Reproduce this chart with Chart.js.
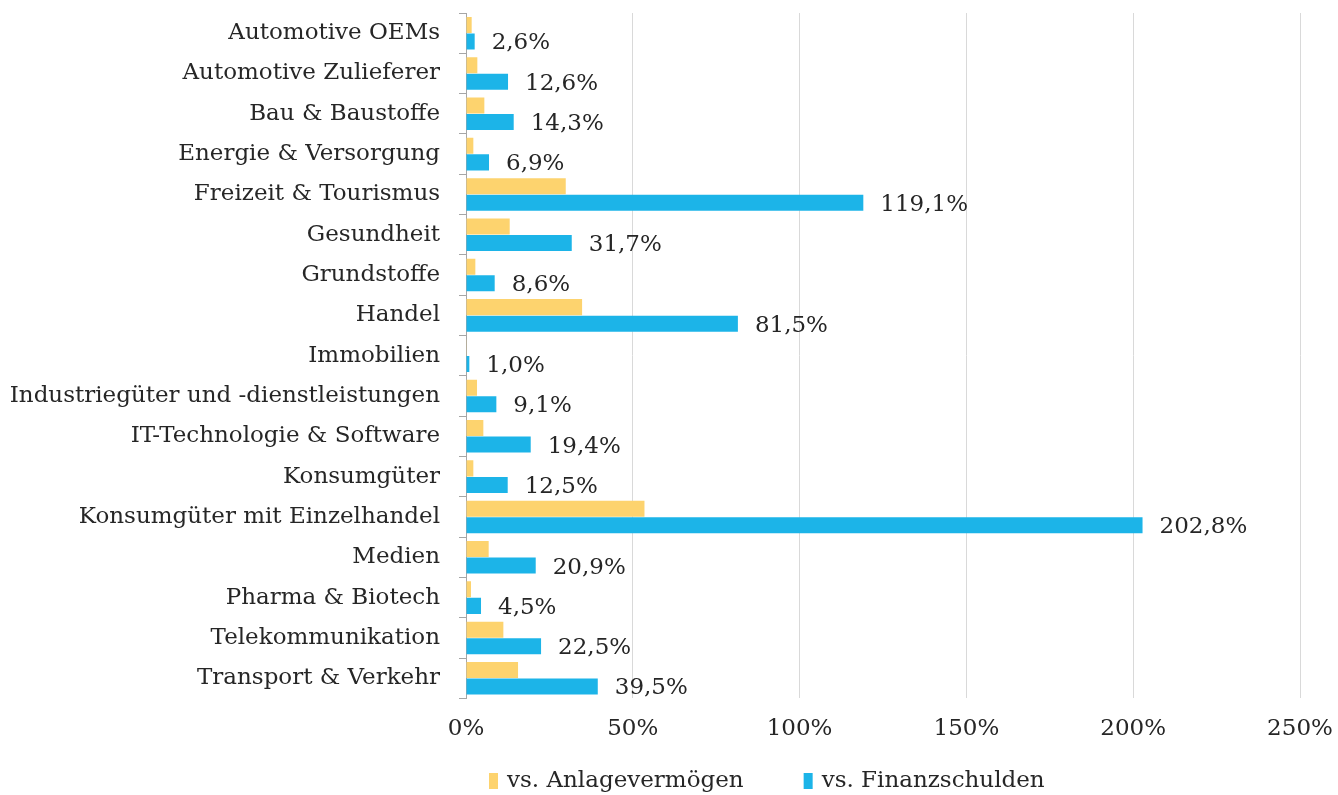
<!DOCTYPE html>
<html>
<head>
<meta charset="utf-8">
<script src="https://cdn.jsdelivr.net/npm/chart.js@4"></script>
<style>
  html, body { margin: 0; padding: 0; background: #fff; }
  #wrap { width: 1338px; height: 795px; }
</style>
</head>
<body>
<div id="wrap"><canvas id="chart" width="1338" height="795"></canvas></div>
<script>
const categories = [
    'Automotive OEMs', 'Automotive Zulieferer', 'Bau & Baustoffe', 'Energie & Versorgung',
    'Freizeit & Tourismus', 'Gesundheit', 'Grundstoffe', 'Handel', 'Immobilien',
    'Industriegüter und -dienstleistungen', 'IT-Technologie & Software', 'Konsumgüter',
    'Konsumgüter mit Einzelhandel', 'Medien', 'Pharma & Biotech', 'Telekommunikation',
    'Transport & Verkehr',
];
// (no labels on the yellow series)
const anlagevermoegen = [1.7, 3.4, 5.5, 2.2, 29.9, 13.1, 2.8, 34.8, 0.2, 3.3, 5.2, 2.2, 53.5, 6.8, 1.5, 11.2, 15.6];
const finanzschulden = [2.6, 12.6, 14.3, 6.9, 119.1, 31.7, 8.6, 81.5, 1.0, 9.1, 19.4, 12.5, 202.8, 20.9, 4.5, 22.5, 39.5];
const xTicks = [0, 50, 100, 150, 200, 250];
const seriesNames = ['vs. Anlagevermögen', 'vs. Finanzschulden'];
const seriesColors = ['#fdd36e', '#1cb4e8'];

const FONT = '"DejaVu Serif", Georgia, serif';
const TXT = '#262626';

const fmt = (v) => v.toFixed(1).replace('.', ',') + '%';

const valueLabels = {
    id: 'valueLabels',
    afterDatasetsDraw(chart) {
        const ctx = chart.ctx;
        const meta = chart.getDatasetMeta(1);
        ctx.save();
        ctx.font = '23px ' + FONT;
        ctx.fillStyle = TXT;
        ctx.textAlign = 'left';
        ctx.textBaseline = 'middle';
        meta.data.forEach((bar, i) => {
            ctx.fillText(fmt(finanzschulden[i]), bar.x + 17, bar.y + 2);
        });
        ctx.restore();
    },
};

// Excel-style legend: narrow boxes, placed under the chart
const bottomLegend = {
    id: 'bottomLegend',
    afterDraw(chart) {
        const ctx = chart.ctx;
        const y = 781;
        let x = 489;
        ctx.save();
        ctx.font = '23px ' + FONT;
        ctx.textBaseline = 'middle';
        ctx.textAlign = 'left';
        seriesNames.forEach((name, i) => {
            ctx.fillStyle = seriesColors[i];
            ctx.fillRect(x, y - 8, 9, 16);
            ctx.fillStyle = TXT;
            ctx.fillText(name, x + 18, y);
            x += 18 + ctx.measureText(name).width + 60;
        });
        ctx.restore();
    },
};

new Chart(document.getElementById('chart').getContext('2d'), {
    type: 'bar',
    data: {
        labels: categories,
        datasets: seriesNames.map((name, i) => ({
            label: name,
            data: i === 0 ? anlagevermoegen : finanzschulden,
            backgroundColor: seriesColors[i],
            categoryPercentage: 0.82,
            barPercentage: 0.97,
        })),
    },
    options: {
        indexAxis: 'y',
        responsive: false,
        animation: false,
        layout: { padding: { top: 13, right: 38, bottom: 35, left: 0 } },
        plugins: {
            tooltip: { enabled: false },
            legend: { display: false },
        },
        scales: {
            x: {
                min: 0,
                max: 250,
                afterBuildTicks: (s) => { s.ticks = xTicks.map((v) => ({ value: v })); },
                afterFit: (s) => { s.paddingLeft = 0; s.paddingRight = 0; },
                ticks: {
                    callback: (v) => v + '%',
                    font: { family: FONT, size: 23 },
                    color: TXT,
                    padding: 17,
                },
                grid: { color: '#d9d9d9', drawTicks: false, lineWidth: 1 },
                border: { display: false },
            },
            y: {
                afterFit: (s) => { s.width = 466; s.paddingTop = 0; s.paddingBottom = 0; },
                ticks: {
                    font: { family: FONT, size: 23 },
                    color: TXT,
                    padding: 19,
                    autoSkip: false,
                },
                grid: {
                    offset: true,
                    drawOnChartArea: false,
                    drawTicks: true,
                    tickLength: 7,
                    color: '#a6a6a6',
                },
                border: { display: true, color: '#a6a6a6' },
            },
        },
    },
    plugins: [valueLabels, bottomLegend],
});
</script>
</body>
</html>
